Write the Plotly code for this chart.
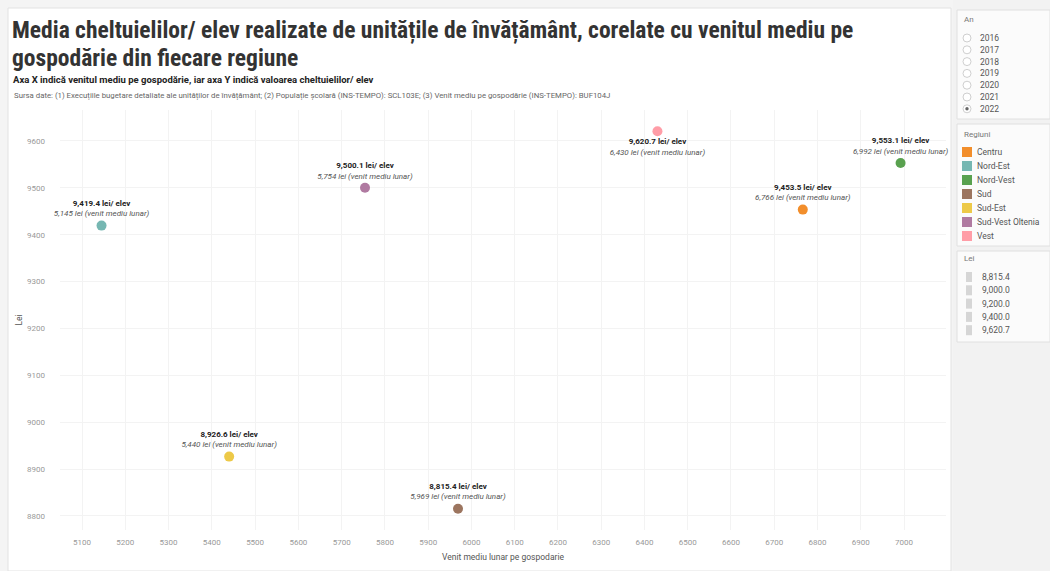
import plotly.graph_objects as go

# ---------------- data ----------------
regions = ["Centru", "Nord-Est", "Nord-Vest", "Sud", "Sud-Est", "Sud-Vest Oltenia", "Vest"]
venit_mediu = [6766, 5145, 6992, 5969, 5440, 5754, 6430]
cheltuieli_elev = [9453.5, 9419.4, 9553.1, 8815.4, 8926.6, 9500.1, 9620.7]
region_colors = ["#f28e2b", "#76b7b2", "#59a14f", "#9c755f", "#edc948", "#b07aa1", "#ff9da7"]
label_pos = ["top center", "top center", "top center", "top center", "top center", "top center", "bottom center"]

years = ["2016", "2017", "2018", "2019", "2020", "2021", "2022"]
selected_year = "2022"
lei_legend = ["8,815.4", "9,000.0", "9,200.0", "9,400.0", "9,620.7"]

x_ticks = list(range(5100, 7001, 100))
y_ticks = list(range(8800, 9601, 100))

title_lines = ["Media cheltuielilor/ elev realizate de unitățile de învățământ, corelate cu venitul mediu pe",
               "gospodărie din fiecare regiune"]

W, H = 1050, 571
FONT = "Roboto"
COND = "Roboto Condensed, Liberation Sans Narrow, Roboto"


def px(x):
    return x / W


def py(y):
    return 1 - y / H


labels = [
    f"<b>{c:,.1f} lei/ elev</b><br><i><span style='color:#555'>{v:,} lei (venit mediu lunar)</span></i>"
    for c, v in zip(cheltuieli_elev, venit_mediu)
]

fig = go.Figure()
fig.add_trace(go.Scatter(
    x=venit_mediu, y=cheltuieli_elev, mode="markers+text",
    marker=dict(size=10, color=region_colors, line=dict(width=0)),
    text=labels, textposition=label_pos,
    textfont=dict(family=FONT, size=8, color="#222"),
    hoverinfo="skip", showlegend=False, cliponaxis=False,
))

shapes = []
annotations = []

# chart card background
shapes.append(dict(type="rect", xref="paper", yref="paper", x0=px(8), x1=px(951), y0=py(571), y1=py(8),
                   fillcolor="white", line=dict(color="#e2e2e2", width=1), layer="below"))

# title / subtitles
for i, line in enumerate(title_lines):
    annotations.append(dict(xref="paper", yref="paper", x=px(11), y=py(30 + i * 28), xanchor="left", yanchor="middle",
                            text=f"<b>{line}</b>", showarrow=False, align="left", borderpad=0,
                            font=dict(family=COND, size=23.5, color="#333")))
annotations.append(dict(xref="paper", yref="paper", x=px(12), y=py(79.5), xanchor="left", yanchor="middle",
                        text="<b>Axa X indică venitul mediu pe gospodărie, iar axa Y indică valoarea cheltuielilor/ elev</b>",
                        showarrow=False, borderpad=0, font=dict(family=FONT, size=9.5, color="#222")))
annotations.append(dict(xref="paper", yref="paper", x=px(12), y=py(95), xanchor="left", yanchor="middle",
                        text="Sursa date: (1) Execuțiile bugetare detaliate ale unităților de învățământ; (2) Populație școlară (INS-TEMPO): SCL103E; (3) Venit mediu pe gospodărie (INS-TEMPO): BUF104J",
                        showarrow=False, font=dict(family=FONT, size=7.8, color="#666")))

# right panel
shapes.append(dict(type="rect", xref="paper", yref="paper", x0=px(953), x1=px(1050), y0=py(571), y1=py(0),
                   fillcolor="#f2f2f2", line=dict(width=0), layer="below"))
cards = [(10, 119), (124, 246), (251, 342)]
for y0, y1 in cards:
    shapes.append(dict(type="rect", xref="paper", yref="paper", x0=px(957), x1=px(1050), y0=py(y1), y1=py(y0),
                       fillcolor="#fbfbfb", line=dict(color="#e0e0e0", width=1), layer="below"))

small = dict(family=FONT, size=8.5, color="#555")
annotations.append(dict(xref="paper", yref="paper", x=px(962), y=py(19), xanchor="left", yanchor="middle",
                        text="An", showarrow=False, font=dict(family=FONT, size=8, color="#777")))
for i, yr in enumerate(years):
    yy = 38 + i * 11.8
    shapes.append(dict(type="circle", xref="paper", yref="paper", x0=px(963), x1=px(971), y0=py(yy + 4), y1=py(yy - 4),
                       line=dict(color="#cfcfcf", width=1), fillcolor="white"))
    if yr == selected_year:
        shapes.append(dict(type="circle", xref="paper", yref="paper", x0=px(965.3), x1=px(968.7), y0=py(yy + 1.7), y1=py(yy - 1.7),
                           line=dict(width=0), fillcolor="#666"))
    annotations.append(dict(xref="paper", yref="paper", x=px(978), y=py(yy), xanchor="left", yanchor="middle",
                            text=yr, showarrow=False, font=small))

annotations.append(dict(xref="paper", yref="paper", x=px(962), y=py(135), xanchor="left", yanchor="middle",
                        text="Regiuni", showarrow=False, font=dict(family=FONT, size=8, color="#777")))
for i, (r, c) in enumerate(zip(regions, region_colors)):
    yy = 152 + i * 14
    shapes.append(dict(type="rect", xref="paper", yref="paper", x0=px(962), x1=px(972), y0=py(yy + 5), y1=py(yy - 5),
                       line=dict(width=0), fillcolor=c))
    annotations.append(dict(xref="paper", yref="paper", x=px(975), y=py(yy), xanchor="left", yanchor="middle",
                            text=r, showarrow=False, font=small))

annotations.append(dict(xref="paper", yref="paper", x=px(962), y=py(258), xanchor="left", yanchor="middle",
                        text="Lei", showarrow=False, font=dict(family=FONT, size=8, color="#777")))
for i, v in enumerate(lei_legend):
    yy = 277 + i * 13.3
    shapes.append(dict(type="rect", xref="paper", yref="paper", x0=px(966), x1=px(972), y0=py(yy + 5), y1=py(yy - 5),
                       line=dict(width=0), fillcolor="#d6d6d6"))
    annotations.append(dict(xref="paper", yref="paper", x=px(980), y=py(yy), xanchor="left", yanchor="middle",
                            text=v, showarrow=False, font=small))

fig.update_layout(
    width=W, height=H, autosize=False,
    margin=dict(l=0, r=0, t=0, b=0),
    paper_bgcolor="#f4f4f4", plot_bgcolor="rgba(0,0,0,0)",
    font=dict(family=FONT, color="#666"),
    shapes=shapes, annotations=annotations,
    xaxis=dict(domain=[px(60), px(946)], range=[5049, 7097], tickvals=x_ticks, tickformat="d",
               showgrid=True, gridcolor="#f3f3f3", zeroline=False, showline=False, ticks="",
               tickfont=dict(family=FONT, size=8, color="#999"), ticklabelstandoff=6,
               title=dict(text="Venit mediu lunar pe gospodarie", font=dict(family=FONT, size=8.5, color="#555"), standoff=8)),
    yaxis=dict(domain=[py(530), py(110)], range=[8770, 9666], tickvals=y_ticks, tickformat="d",
               showgrid=True, gridcolor="#f3f3f3", zeroline=False, showline=False, ticks="",
               tickfont=dict(family=FONT, size=8, color="#999"), ticklabelstandoff=14,
               title=dict(text="Lei", font=dict(family=FONT, size=8.5, color="#555"), standoff=3)),
)

fig.write_html("out.html", config={"displayModeBar": False},
               post_script="document.body.style.margin='0';document.body.style.overflow='hidden';")
